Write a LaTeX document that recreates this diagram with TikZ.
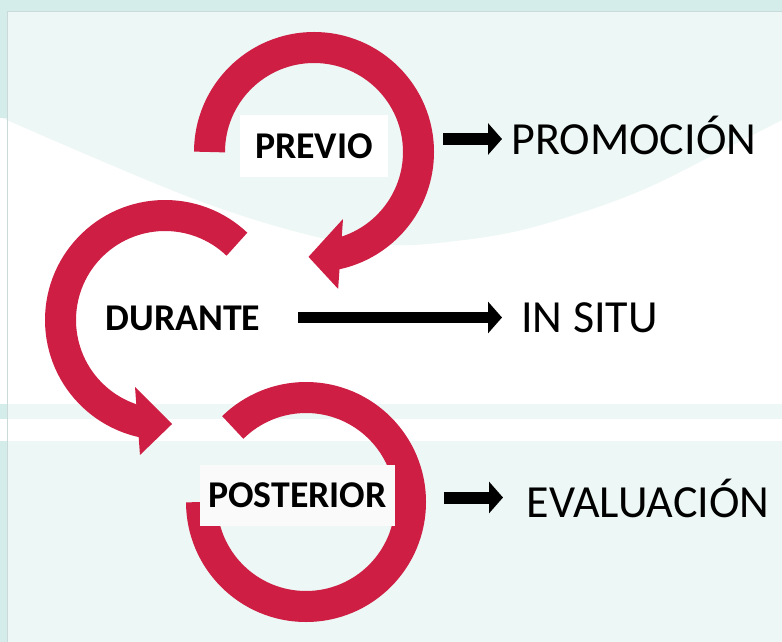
\documentclass[tikz,border=0pt]{standalone}
\usepackage{fontspec}
\setmainfont{Carlito}
\usetikzlibrary{calc,arrows.meta}

\definecolor{mint}{HTML}{EDF7F5}
\definecolor{frame}{HTML}{D4ECEA}
\definecolor{frameline}{HTML}{C9DAD8}
\definecolor{cycred}{HTML}{CE1E44}

\tikzset{
	band/.style={draw=cycred, line width=15.5pt},
	head/.style={fill=cycred},
	stage/.style={fill=white, font=\bfseries\fontsize{18.9pt}{21pt}\selectfont, inner xsep=0pt, minimum height=31pt},
	result/.style={font=\fontsize{23pt}{27pt}\selectfont, inner sep=0pt, anchor=base west},
	link/.style={line width=6pt, -{Triangle[length=7pt, width=15.5pt]}}
}

\begin{document}
\begin{tikzpicture}[x=0.5pt, y=-0.5pt]
	\useasboundingbox (0,0) rectangle (782,642);
	
	% background bands
	\fill[white] (0,0) rectangle (782,642);
	\fill[mint] (0,0) -- plot[smooth, tension=0.6] coordinates {(0,117) (197,200) (330,240) (397,245) (447,242) (513,232) (580,213) (647,188) (723,150) (782,120)} -- (782,0) -- cycle;
	\fill[mint] (0,404) rectangle (782,419);
	\fill[mint] (0,441) rectangle (782,642);
	\fill[frame] (0,0) rectangle (782,11.5);
	\fill[frame] (0,0) rectangle (7.5,118);
	\fill[frame] (0,404) rectangle (7.5,419);
	\fill[frame] (0,441) rectangle (7.5,642);
	\draw[frameline, line width=0.6pt] (7.5,642) -- (7.5,11.5) -- (782,11.5);
	
	\def\rmid{104.5}
	
	% loops
	\coordinate (c1) at (314,152);
	\coordinate (c2) at (165,320);
	\coordinate (c3) at (306,502);
	
	\draw[band] ($(c1)+(180:\rmid)$) arc[start angle=180, end angle=439, radius=\rmid];
	\fill[head] ($(c1)+(66.6:73)$) -- ($(c1)+(80:139)$) -- ($(c1)+(93:105)$) -- cycle;
	
	\draw[band] ($(c2)+(-46.5:\rmid)$) arc[start angle=-46.5, end angle=-260, radius=\rmid];
	\fill[head] ($(c2)+(114.1:73.4)$) -- ($(c2)+(100.5:137.3)$) -- ($(c2)+(86.1:104.2)$) -- cycle;
	
	\draw[band] ($(c3)+(180:\rmid)$) arc[start angle=180, end angle=-134.5, radius=\rmid];
	
	% stages
	\node[stage, minimum width=74pt] (prev) at (314,146) {PREVIO};
	\node[stage, inner xsep=8pt] (dur) at (183,318.5) {DURANTE};
	\node[stage, fill=white!98!black, minimum width=97.5pt, minimum height=30.5pt] (post) at (297.5,495.5) {POSTERIOR};
	
	% results
	\node[result] (promo) at (511,155) {PROMOCIÓN};
	\node[result] (insitu) at (521,332) {IN SITU};
	\node[result] (evalu) at (526.5,517) {EVALUACIÓN};
	
	\coordinate (s1) at (443,139);
	\coordinate (s2) at (298,317.5);
	\coordinate (s3) at (444,497.5);
	\draw[link, shorten >=4.5pt] (s1) -- (s1 -| promo.west);
	\draw[link, line width=5.5pt, shorten >=9.5pt] (s2) -- (s2 -| insitu.west);
	\draw[link, shorten >=11.75pt] (s3) -- (s3 -| evalu.west);
\end{tikzpicture}
\end{document}
